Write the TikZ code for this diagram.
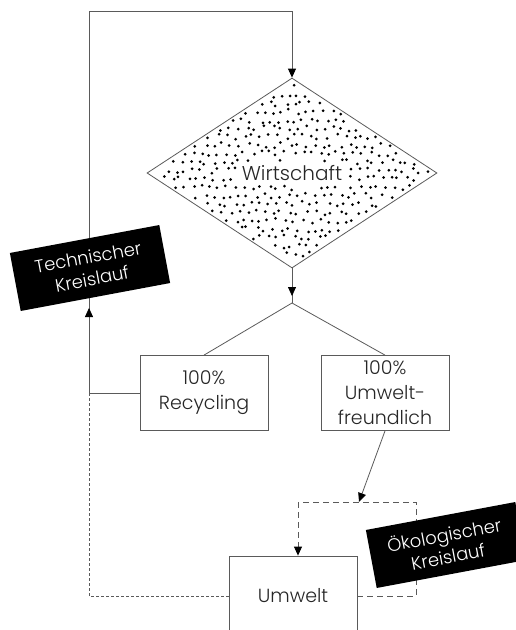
\documentclass[tikz,border=0pt]{standalone}
\usepackage{fontspec}
\setmainfont{Poppins}[UprightFont=* Light]
\usetikzlibrary{shapes.geometric,arrows.meta}
\definecolor{ln}{HTML}{5A5A5A}
\tikzset{
  x=1pt, y=-1pt,
  line/.style={draw=ln, line width=0.8pt},
  tip/.tip={Triangle[length=9pt,width=8pt,color=black]},
  arr/.style={line, -tip},
  dsh/.style={line, dash pattern=on 3pt off 2pt},
  dshl/.style={line, dash pattern=on 6pt off 4pt},
  box/.style={draw=ln, line width=0.8pt, minimum width=128pt, minimum height=75pt, align=center, font=\fontsize{19}{25}\selectfont, text=black!85, inner sep=0pt},
  tag/.style={fill=black, text=white, minimum width=152pt, minimum height=59pt, align=center, font=\fontsize{18}{22}\selectfont, inner sep=0pt, rotate=10.6},
  dot/.style={fill=black}
}
\begin{document}
\begin{tikzpicture}
\useasboundingbox (0,0) rectangle (516,630);
% dots in diamond
\pgfmathsetseed{7}
\foreach \i in {0,...,35}{
  \foreach \j in {0,...,23}{
    \pgfmathsetmacro\px{147+\i*8.4+mod(\j,2)*4.2+rand*2.8}
    \pgfmathsetmacro\py{78+\j*8.4+rand*2.8}
    \pgfmathtruncatemacro\inside{abs(\px-292)/145+abs(\py-173)/95 < 0.965 ? 1 : 0}
    \pgfmathtruncatemacro\intext{(\px>239 && \px<346 && \py>161 && \py<186) ? 1 : 0}
    \ifnum\inside=1 \ifnum\intext=0
      \fill[dot] (\px,\py) circle (1.5pt);
    \fi\fi
  }
}
\node[diamond, draw=ln, line width=0.8pt, minimum width=290pt, minimum height=190pt, inner sep=0pt, font=\fontsize{20}{24}\selectfont, text=black!85] (W) at (292,173) {Wirtschaft};
\node[box] (rec) at (204,393) {100\%\\Recycling};
\node[box] (umf) at (385,393) {100\%\\Umwelt-\\freundlich};
\node[box, minimum height=80pt] (umw) at (293,596) {Umwelt};
\coordinate (tl) at (89,11);
\coordinate (tr) at (292,11);
\coordinate (split) at (292,303);
\coordinate (a1) at (292,296);
\coordinate (up0) at (89,330);
\coordinate (up1) at (89,308);
\coordinate (eco) at (359,502);
\coordinate (dl) at (298,502);
\coordinate (dr) at (416,502);
% technical loop
\draw[arr] (rec.west) -| (tl) -- (tr) -- (W.north);
\draw[arr] (up0) -- (up1);
\draw[line] (W.south) -- (split);
\draw[arr] (W.south) -- (a1);
\draw[line] (split) -- (rec.north);
\draw[line] (split) -- (umf.north);
% ecological
\draw[arr] (umf.south) -- (eco);
\draw[dsh] (rec.west -| tl) |- (umw.west);
\draw[dshl] (umw.east) -| (dr) -- (dl);
\draw[dshl, -tip] (dl) -- (dl |- umw.north);
% labels
\node[tag] (tech) at (90,268) {Technischer\\Kreislauf};
\node[tag] (oeko) at (446,545) {Ökologischer\\Kreislauf};
\end{tikzpicture}
\end{document}
